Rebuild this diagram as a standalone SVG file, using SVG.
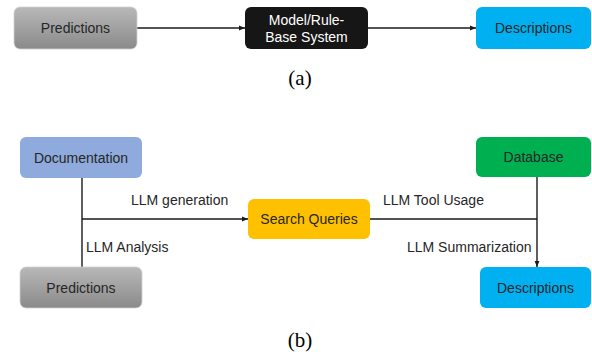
<svg xmlns="http://www.w3.org/2000/svg" width="592" height="358" viewBox="0 0 592 358">
<style>
.lbl{font-family:"Liberation Sans",Arial,sans-serif;font-size:14px;fill:#262626;text-anchor:middle;dominant-baseline:central}
.edge{font-family:"Liberation Sans",Arial,sans-serif;font-size:14px;fill:#262626;dominant-baseline:central}
.cap{font-family:"Liberation Serif","Times New Roman",serif;font-size:21px;fill:#000;text-anchor:middle;dominant-baseline:central}
.ln{stroke:#1a1a1a;stroke-width:1.4;fill:none}
</style>
<defs>
<linearGradient id="gray" x1="0" y1="0" x2="0" y2="1">
<stop offset="0" stop-color="#b8b8b8"/>
<stop offset="1" stop-color="#8a8a8a"/>
</linearGradient>
<marker id="arr" viewBox="0 0 10 10" refX="10" refY="5" markerWidth="6" markerHeight="6" orient="auto" markerUnits="userSpaceOnUse">
<path d="M0,1 L10,5 L0,9 z" fill="#1a1a1a"/>
</marker>
</defs>
<g id="connectors">
<line class="ln" x1="137" y1="28" x2="245" y2="28" marker-end="url(#arr)"/>
<line class="ln" x1="368" y1="28" x2="476" y2="28" marker-end="url(#arr)"/>
<line class="ln" x1="82" y1="178" x2="82" y2="267"/>
<line class="ln" x1="82" y1="219" x2="248" y2="219" marker-end="url(#arr)"/>
<line class="ln" x1="370" y1="219" x2="537" y2="219"/>
<line class="ln" x1="537" y1="177" x2="537" y2="267" marker-end="url(#arr)"/>
<text class="edge" x="131" y="200">LLM generation</text>
<text class="edge" x="86" y="247">LLM Analysis</text>
<text class="edge" x="383" y="200">LLM Tool Usage</text>
<text class="edge" x="407" y="247">LLM Summarization</text>
</g>
<g id="a-predictions">
<rect x="14" y="7" width="123" height="42" rx="6" fill="url(#gray)" stroke="#d0d0d0" stroke-width="0.8"/>
<text class="lbl" x="75.5" y="28">Predictions</text>
</g>
<g id="a-model">
<rect x="245" y="7" width="123" height="42" rx="6" fill="#161616"/>
<text class="lbl" x="306.5" y="20" fill="#fff" style="fill:#fff">Model/Rule-</text>
<text class="lbl" x="306.5" y="37" style="fill:#fff">Base System</text>
</g>
<g id="a-descriptions">
<rect x="476" y="7" width="115" height="42" rx="6" fill="#00b0f0"/>
<text class="lbl" x="533.5" y="28">Descriptions</text>
</g>
<text class="cap" x="300" y="78">(a)</text>
<g id="b-documentation">
<rect x="20" y="137" width="122" height="41" rx="6" fill="#8faadc"/>
<text class="lbl" x="81" y="157.5">Documentation</text>
</g>
<g id="b-predictions">
<rect x="20" y="267" width="122" height="41" rx="6" fill="url(#gray)" stroke="#d0d0d0" stroke-width="0.8"/>
<text class="lbl" x="81" y="287.5">Predictions</text>
</g>
<g id="b-search">
<rect x="248" y="199" width="122" height="40" rx="6" fill="#ffc000"/>
<text class="lbl" x="309" y="219">Search Queries</text>
</g>
<g id="b-database">
<rect x="476" y="137" width="115" height="40" rx="6" fill="#00b050"/>
<text class="lbl" x="533.5" y="157">Database</text>
</g>
<g id="b-descriptions">
<rect x="480" y="267" width="111" height="41" rx="6" fill="#00b0f0"/>
<text class="lbl" x="535.5" y="287.5">Descriptions</text>
</g>
<text class="cap" x="300" y="340">(b)</text>
</svg>
